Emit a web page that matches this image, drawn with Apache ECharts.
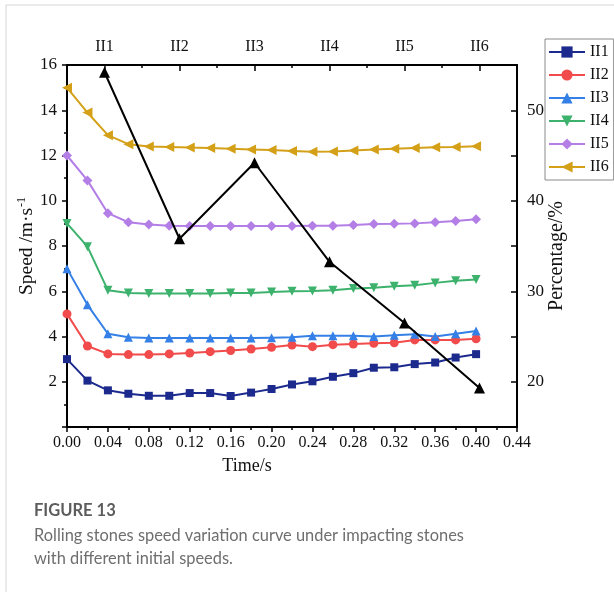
<!DOCTYPE html>
<html>
<head>
<meta charset="utf-8">
<script src="https://cdn.jsdelivr.net/npm/echarts@6/dist/echarts.min.js"></script>
<style>
	html,body{margin:0;padding:0;background:#fff;}
	#chart{width:614px;height:592px;}
</style>
</head>
<body>
<div id="chart"></div>
<script>
	//时间 (s)
	var times = [0.00,0.02,0.04,0.06,0.08,0.10,0.12,0.14,0.16,0.18,0.20,0.22,0.24,0.26,0.28,0.30,0.32,0.34,0.36,0.38,0.40];
	//各工况速度 m/s
	var II1 = [3.0,2.05,1.62,1.47,1.38,1.38,1.5,1.5,1.37,1.52,1.68,1.88,2.02,2.22,2.38,2.62,2.64,2.78,2.85,3.07,3.22];
	var II2 = [5.0,3.58,3.23,3.2,3.2,3.23,3.27,3.33,3.38,3.45,3.52,3.62,3.55,3.64,3.67,3.7,3.72,3.85,3.85,3.85,3.9];
	var II3 = [7.0,5.4,4.12,3.97,3.93,3.93,3.93,3.93,3.93,3.93,3.95,3.97,4.03,4.03,4.03,4.0,4.05,4.1,4.0,4.12,4.24];
	var II4 = [9.0,7.97,6.04,5.92,5.9,5.9,5.9,5.9,5.92,5.92,5.97,6.0,6.01,6.04,6.12,6.16,6.22,6.27,6.37,6.46,6.52];
	var II5 = [12.0,10.9,9.45,9.05,8.95,8.9,8.88,8.88,8.88,8.88,8.88,8.88,8.9,8.9,8.93,8.97,8.98,9.0,9.05,9.1,9.18];
	var II6 = [15.0,13.9,12.9,12.5,12.4,12.38,12.35,12.33,12.3,12.27,12.24,12.2,12.17,12.18,12.22,12.26,12.3,12.33,12.36,12.38,12.41];
	//上方工况 + 百分比
	var cases = ['II1','II2','II3','II4','II5','II6'];
	var percent = [54.2,35.8,44.2,33.25,26.5,19.3];

	var serif = 'Liberation Serif';
	var chart = echarts.init(document.getElementById('chart'));

	//把 x/y 拼成点
	function pts(ys){
		return times.map(function(t,i){ return [t, ys[i]]; });
	}
	function speedLine(name,data,color,symbol,size,rotate){
		return {
			name: name,
			type: 'line',
			xAxisIndex: 0,
			yAxisIndex: 0,
			data: pts(data),
			symbol: symbol,
			symbolSize: size,
			symbolRotate: rotate || 0,
			lineStyle: {color: color, width: 2},
			itemStyle: {color: color},
			z: 3
		};
	}

	var option = {
		animation: false,
		grid: {left: 67, right: 97, top: 65, bottom: 165},
		legend: {
			data: cases,
			orient: 'vertical',
			left: 545,
			top: 39,
			padding: [5, 5, 5, 3],
			itemWidth: 36,
			itemHeight: 14,
			itemGap: 7,
			borderColor: '#8a8a8a',
			borderWidth: 1,
			textStyle: {fontFamily: serif, fontSize: 16, color: '#111'}
		},
		xAxis: [
			{//底部时间轴
				type: 'value',
				position: 'bottom',
				min: 0, max: 0.44, interval: 0.04,
				name: 'Time/s',
				nameLocation: 'middle',
				nameGap: 30,
				nameTextStyle: {fontFamily: serif, fontSize: 18, color: '#111', padding: [0, 90, 0, 0]},
				axisLine: {show: true, lineStyle: {color: '#000', width: 2}},
				axisTick: {show: true, length: 5, lineStyle: {color: '#000', width: 1.5}},
				minorTick: {show: true, splitNumber: 2, length: 3, lineStyle: {color: '#000', width: 1.5}},
				axisLabel: {fontFamily: serif, fontSize: 16, color: '#111', margin: 8,
					formatter: function(v){ return v.toFixed(2); }},
				splitLine: {show: false}
			},
			{//上方工况轴
				type: 'category',
				position: 'top',
				data: cases,
				boundaryGap: true,
				axisLine: {show: true, lineStyle: {color: '#000', width: 2}},
				axisTick: {show: true, inside: true, alignWithLabel: true, length: 6, lineStyle: {color: '#000', width: 1.5}},
				axisLabel: {fontFamily: serif, fontSize: 16, color: '#111', margin: 10},
				splitLine: {show: false}
			},
			{//上方次刻度
				type: 'category',
				position: 'top',
				data: cases,
				boundaryGap: true,
				axisLine: {show: false},
				axisTick: {show: true, inside: true, length: 3, lineStyle: {color: '#000', width: 1.5}},
				axisLabel: {show: false},
				splitLine: {show: false}
			}
		],
		yAxis: [
			{//速度
				type: 'value',
				position: 'left',
				min: 0, max: 16, interval: 2,
				name: 'Speed /m·s{sup|-1}',
				nameLocation: 'middle',
				nameMoveOverlap: false,
				nameGap: 29,
				nameTextStyle: {fontFamily: serif, fontSize: 19.5, color: '#111',
					rich: {sup: {fontFamily: serif, fontSize: 12, color: '#111', verticalAlign: 'top', padding: [0, 0, 10, 1]}}},
				axisLine: {show: true, lineStyle: {color: '#000', width: 2}},
				axisTick: {show: true, length: 5, lineStyle: {color: '#000', width: 1.5}},
				minorTick: {show: true, splitNumber: 2, length: 3, lineStyle: {color: '#000', width: 1.5}},
				axisLabel: {fontFamily: serif, fontSize: 17, color: '#111', margin: 10,
					formatter: function(v){ return v === 0 ? '' : v; }},
				splitLine: {show: false}
			},
			{//百分比
				type: 'value',
				position: 'right',
				min: 15, max: 55, interval: 5,
				name: 'Percentage/%',
				nameLocation: 'middle',
				nameMoveOverlap: false,
				nameGap: 30,
				nameRotate: 90,
				nameTextStyle: {fontFamily: serif, fontSize: 20, color: '#111', padding: [0, 20, 0, 0]},
				axisLine: {show: true, lineStyle: {color: '#000', width: 2}},
				axisTick: {show: true, inside: true, length: 6, lineStyle: {color: '#000', width: 1.5}},
				axisLabel: {fontFamily: serif, fontSize: 17, color: '#111', margin: 10,
					formatter: function(v){ return v % 10 === 0 ? v : ''; }},
				splitLine: {show: false}
			}
		],
		series: [
			speedLine('II1', II1, '#1c2a8e', 'rect', 8),
			speedLine('II2', II2, '#f24b4b', 'circle', 9),
			speedLine('II3', II3, '#3580e6', 'triangle', 9),
			speedLine('II4', II4, '#3cb26c', 'triangle', 9, 180),
			speedLine('II5', II5, '#b37ee6', 'diamond', 10),
			speedLine('II6', II6, '#d4a017', 'triangle', 10, 90),
			{
				name: 'Percentage',
				type: 'line',
				xAxisIndex: 1,
				yAxisIndex: 1,
				data: percent,
				symbol: 'triangle',
				symbolSize: 11,
				lineStyle: {color: '#000', width: 2},
				itemStyle: {color: '#000'},
				z: 4
			}
		],
		graphic: [
			{//页面边框
				type: 'polyline',
				shape: {points: [[6, 592], [6, 5], [614, 5]]},
				style: {stroke: '#d6d6d6', lineWidth: 1, fill: null},
				silent: true
			},
			{
				type: 'text', left: 34, top: 502,
				style: {text: 'FIGURE 13', fontFamily: 'Lato', fontSize: 16.5, fontWeight: 'bold', fill: '#5c5c5c'}
			},
			{
				type: 'text', left: 34, top: 524,
				style: {text: 'Rolling stones speed variation curve under impacting stones\nwith different initial speeds.',
					fontFamily: 'Lato', fontSize: 16.4, lineHeight: 23, fill: '#6e6e6e'}
			}
		]
	};
	chart.setOption(option);
</script>
</body>
</html>
